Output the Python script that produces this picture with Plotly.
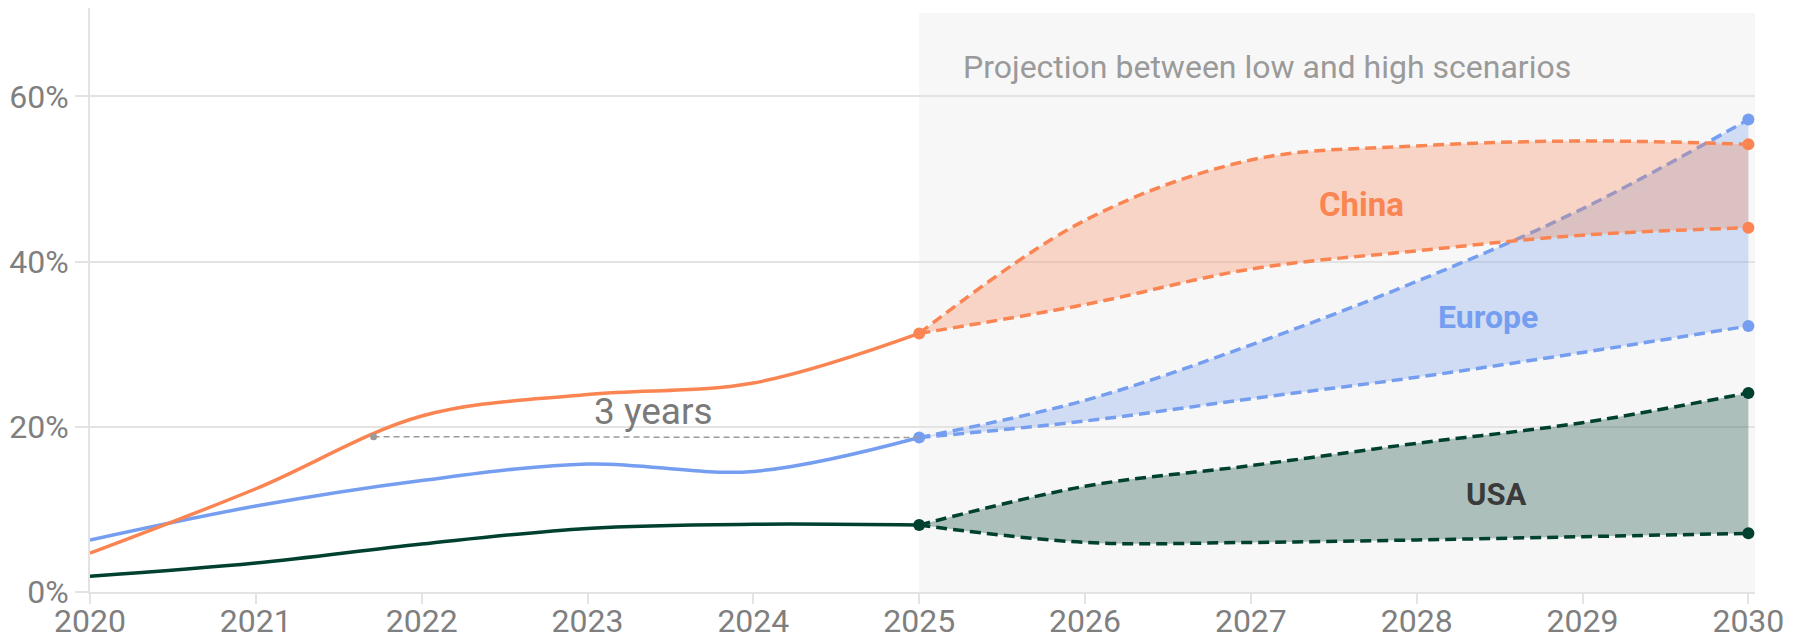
import plotly.graph_objects as go

# historical shares (%)
years_hist = [2020, 2021, 2022, 2023, 2024, 2025]
china_hist = [4.7, 12.5, 21.3, 23.9, 25.3, 31.3]
europe_hist = [6.3, 10.4, 13.5, 15.5, 14.6, 18.7]
usa_hist = [1.9, 3.5, 5.8, 7.7, 8.2, 8.1]

# projections (%), low and high scenarios
years_proj = [2025, 2026, 2027, 2028, 2029, 2030]
china_high = [31.3, 45.0, 52.3, 54.0, 54.6, 54.2]
china_low = [31.3, 34.8, 39.1, 41.3, 43.2, 44.1]
europe_high = [18.7, 23.2, 29.9, 37.6, 46.4, 57.2]
europe_low = [18.7, 20.7, 23.4, 26.0, 29.0, 32.2]
usa_high = [8.1, 12.8, 15.3, 18.0, 20.5, 24.1]
usa_low = [8.1, 6.0, 6.0, 6.3, 6.7, 7.1]

# "3 years" gap marker
gap_x = [2021.71, 2025]
gap_y = [18.8, 18.7]

x_ticks = [2020, 2021, 2022, 2023, 2024, 2025, 2026, 2027, 2028, 2029, 2030]
y_ticks = [0, 20, 40, 60]
y_labels = ["0%", "20%", "40%", "60%"]

COLORS = {
    "China": "#FA8552",
    "Europe": "#769EF0",
    "USA": "#00402F",
}
FILLS = {
    "China": "rgba(250,133,82,0.3)",
    "Europe": "rgba(118,158,240,0.3)",
    "USA": "rgba(0,64,47,0.3)",
}

series = [
    ("USA", usa_hist, usa_low, usa_high),
    ("Europe", europe_hist, europe_low, europe_high),
    ("China", china_hist, china_low, china_high),
]

fig = go.Figure()

# projection band background
fig.add_shape(type="rect", xref="x", yref="y", x0=2025, x1=2030.04, y0=0, y1=70.1,
              fillcolor="#F7F7F7", line_width=0, layer="below")

for name, hist, low, high in series:
    c = COLORS[name]
    dashed = dict(color=c, width=3.5, dash="11px,6px", shape="spline")
    fig.add_trace(go.Scatter(x=years_proj, y=low, mode="lines", line=dashed,
                             showlegend=False, hoverinfo="skip"))
    fig.add_trace(go.Scatter(x=years_proj, y=high, mode="lines", fill="tonexty",
                             fillcolor=FILLS[name], line=dashed,
                             showlegend=False, hoverinfo="skip"))

for name, hist, low, high in series:
    c = COLORS[name]
    fig.add_trace(go.Scatter(x=years_hist, y=hist, mode="lines",
                             line=dict(color=c, width=3.5, shape="spline"),
                             showlegend=False))
    fig.add_trace(go.Scatter(x=[years_hist[-1], years_proj[-1], years_proj[-1]],
                             y=[hist[-1], low[-1], high[-1]], mode="markers",
                             marker=dict(color=c, size=12), cliponaxis=False,
                             showlegend=False))

fig.add_trace(go.Scatter(x=gap_x, y=gap_y, mode="lines",
                         line=dict(color="#9A9A9A", width=1.5, dash="6px,4px"),
                         showlegend=False, hoverinfo="skip"))
fig.add_trace(go.Scatter(x=gap_x[:1], y=gap_y[:1], mode="markers",
                         marker=dict(color="#9A9A9A", size=7),
                         showlegend=False, hoverinfo="skip"))

fig.add_annotation(x=2023.4, y=21.9, text="3 years", showarrow=False,
                   font=dict(size=37, color="#7A7A7A"))
fig.add_annotation(x=2025.25, y=63.5, text="Projection between low and high scenarios",
                   showarrow=False, xanchor="left",
                   font=dict(size=32, color="#9A9A9A"))
fig.add_annotation(x=2027.67, y=46.9, text="<b>China</b>", showarrow=False,
                   font=dict(size=33, color=COLORS["China"]))
fig.add_annotation(x=2028.43, y=33.3, text="<b>Europe</b>", showarrow=False,
                   font=dict(size=32, color=COLORS["Europe"]))
fig.add_annotation(x=2028.48, y=11.8, text="<b>USA</b>", showarrow=False,
                   font=dict(size=31, color="#3A3A3A"))

# the page body adds an 8px offset, so the figure is sized to fit the window
fig.update_layout(
    width=1794, height=632,
    margin=dict(l=82, r=47, t=0, b=48),
    paper_bgcolor="white",
    plot_bgcolor="white",
    font=dict(family="Roboto", size=32, color="#7F7F7F"),
    showlegend=False,
)
fig.update_xaxes(range=[2020, 2030.04], tickvals=x_ticks, showgrid=False,
                 showline=True, linecolor="#E3E3E3", linewidth=2,
                 ticks="outside", ticklen=10, tickcolor="#E3E3E3", tickwidth=2,
                 ticklabelstandoff=-10,
                 tickfont=dict(size=32, color="#7F7F7F"), zeroline=False,
                 automargin=False)
fig.update_yaxes(range=[0, 70.7], tickvals=y_ticks, ticktext=y_labels,
                 showgrid=True, gridcolor="#E3E3E3", gridwidth=1.5,
                 showline=True, linecolor="#E3E3E3", linewidth=2,
                 ticks="outside", ticklen=13, tickcolor="#E3E3E3", tickwidth=2,
                 tickfont=dict(size=32, color="#7F7F7F"), zeroline=False,
                 automargin=False)

fig.write_html("out.html")
